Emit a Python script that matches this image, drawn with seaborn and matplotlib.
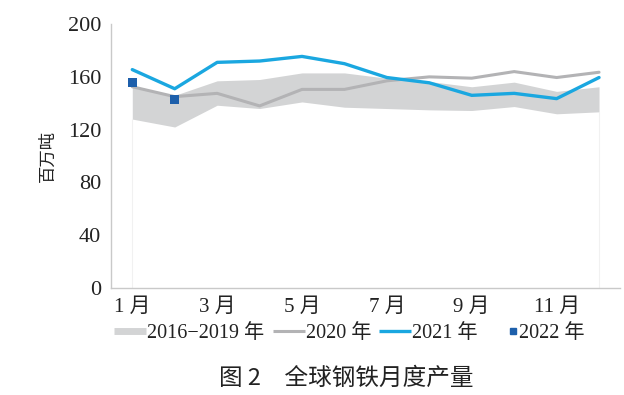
import numpy as np
import pandas as pd
import seaborn as sns
import matplotlib.pyplot as plt
from matplotlib.lines import Line2D
from matplotlib.legend_handler import HandlerBase

months = list(range(1, 13))
band_low = [128, 122, 138.5, 136, 141, 137, 136, 135, 134.5, 137.5, 132, 133.5]
band_high = [152, 146, 157, 158, 163, 163, 159, 156.5, 152.5, 156, 149, 152.5]
y2020 = [152.5, 145, 147.5, 138, 150.5, 150.5, 157, 160, 159, 164, 159.5, 163.5]
y2021 = [165.5, 151, 171, 172, 175.5, 170, 159.5, 155.5, 146, 147.5, 143.5, 159.5]
months_2022 = [1, 2]
y2022 = [155.5, 143]
tick_months = [1, 3, 5, 7, 9, 11]
tick_labels = [f"{m} 月" for m in tick_months]

sns.set_style("white")
plt.rcParams['font.family'] = ['Liberation Serif', 'Noto Sans CJK SC']

c_band = '#d3d4d5'
c_2020 = '#b3b3b5'
c_2021 = '#1aa7e0'
c_2022 = '#1d5fab'
c_axis = '#c9c9c9'
c_text = '#222222'


class RightMarker(HandlerBase):
    # square marker sits at the right end of the handle box, next to the text
    def create_artists(self, legend, orig_handle, xdescent, ydescent, width, height,
                       fontsize, trans):
        m = Line2D([width - 4], [height / 2 - ydescent], marker='s', ls='none',
                   color=orig_handle.get_color(), markersize=orig_handle.get_markersize())
        m.set_transform(trans)
        return [m]


fig = plt.figure(figsize=(6.24, 3.95), dpi=100)
ax = fig.add_axes([0.178, 0.271, 0.816, 0.668])

df = pd.DataFrame({'month': months, '2020': y2020, '2021': y2021})

ax.fill_between(months, band_low, band_high, color=c_band, lw=0, zorder=1)
ax.vlines([1, 12], 0, [band_low[0], band_low[-1]], color='#f1f1f1', lw=0.8, zorder=0)
sns.lineplot(data=df, x='month', y='2020', ax=ax, color=c_2020, lw=2.2, zorder=2)
sns.lineplot(data=df, x='month', y='2021', ax=ax, color=c_2021, lw=2.4, zorder=3)
sns.scatterplot(x=months_2022, y=y2022, ax=ax, marker='s', s=45, color=c_2022,
                edgecolor='none', zorder=4)

ax.set_xlim(0.5, 12.5)
ax.set_ylim(0, 200)
ax.set_xticks(tick_months)
ax.set_xticklabels(tick_labels)
ax.set_xticks(np.arange(0.5, 13, 1), minor=True)
ax.tick_params(axis='x', which='major', length=0, pad=7, labelsize=15, labelcolor=c_text)
ax.tick_params(axis='x', which='minor', length=6, width=0.8, color=c_axis, direction='out')
ax.set_yticks(range(0, 201, 40))
ax.set_yticks(range(0, 201, 20), minor=True)
ax.tick_params(axis='y', which='major', length=4, width=0.8, color=c_axis, labelsize=16,
               labelcolor=c_text, pad=3)
ax.tick_params(axis='y', which='minor', length=4, width=0.8, color=c_axis)
ax.set_xlabel('')
ax.set_ylabel('百万吨', fontsize=12.5, color=c_text, labelpad=8)
sns.despine(ax=ax)
ax.spines['left'].set_color(c_axis)
ax.spines['bottom'].set_color(c_axis)
ax.spines['left'].set_linewidth(1)
ax.spines['bottom'].set_linewidth(1)

sq = Line2D([], [], color=c_2022, marker='s', ls='none', markersize=5)
handles = [
    Line2D([], [], color=c_band, lw=5, solid_capstyle='butt'),
    Line2D([], [], color=c_2020, lw=2.2, solid_capstyle='butt'),
    Line2D([], [], color=c_2021, lw=2.4, solid_capstyle='butt'),
    sq,
]
labels = ['2016−2019 年', '2020 年', '2021 年', '2022 年']
fig.legend(handles, labels, loc='center', bbox_to_anchor=(0.56, 0.155), ncol=4,
           frameon=False, fontsize=14.5, handlelength=1.6, handletextpad=0.05,
           columnspacing=0.4, labelcolor=c_text, handler_map={sq: RightMarker()})

fig.text(0.555, 0.043, '图 2\u3000全球钢铁月度产量', ha='center', va='center', fontsize=17,
         fontweight='medium', family=['Noto Sans CJK SC'], color=c_text)

fig.savefig('out.png', dpi=100)
